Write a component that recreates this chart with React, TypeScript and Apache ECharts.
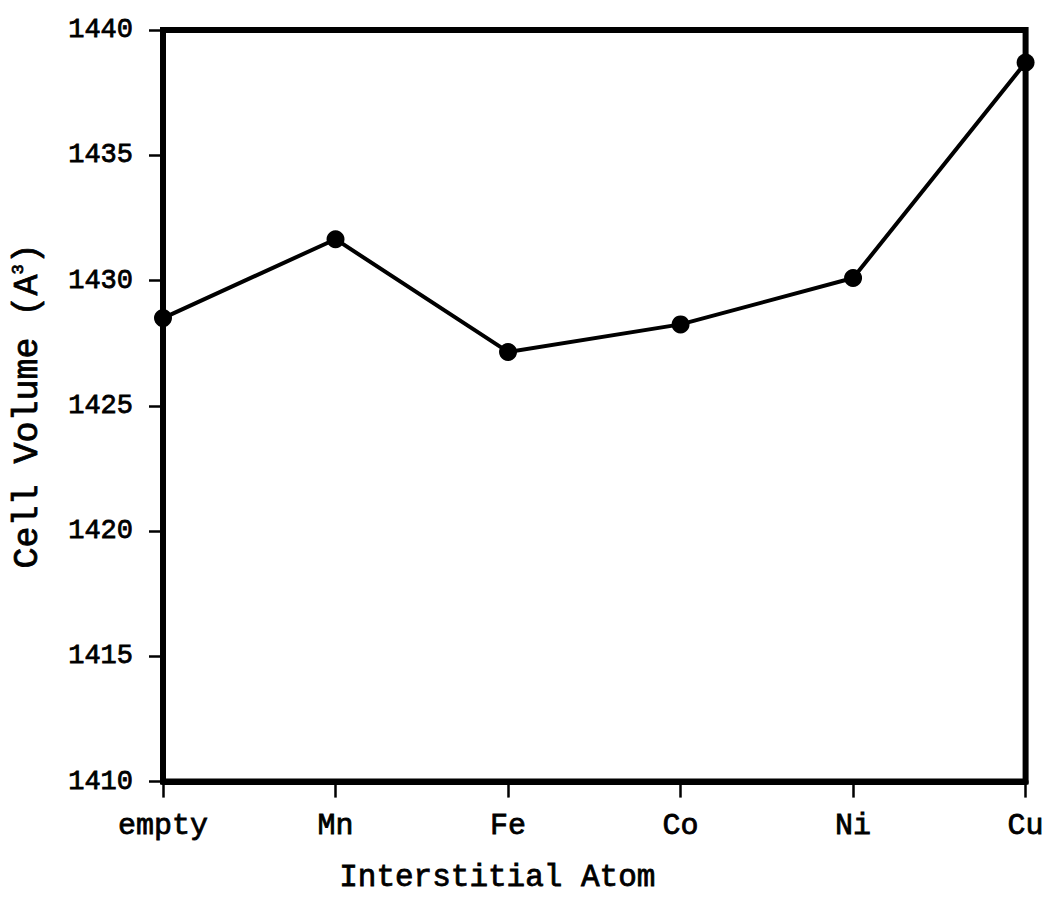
import React, { useEffect, useRef } from "react";
import * as echarts from "echarts";

const categories = ["empty", "Mn", "Fe", "Co", "Ni", "Cu"];
const cellVolume = [1428.5, 1431.65, 1427.15, 1428.25, 1430.1, 1438.7];
const yTicks = { min: 1410, max: 1440, interval: 5 };

const FONT = "Liberation Mono";
const textBase = {
  fontFamily: FONT,
  color: "#000",
  textBorderColor: "#000",
  textBorderWidth: 0.8,
};

export default function App() {
  const ref = useRef<HTMLDivElement>(null);
  useEffect(() => {
    if (!ref.current) return;
    const chart = echarts.init(ref.current, undefined, { renderer: "svg" });
    chart.setOption({
      animation: false,
      backgroundColor: "#ffffff",
      grid: {
        left: 163,
        right: 19,
        top: 30,
        bottom: 116,
        show: true,
        borderColor: "#000",
        borderWidth: 6,
      },
      xAxis: {
        type: "category",
        data: categories,
        boundaryGap: false,
        name: "Interstitial Atom",
        nameLocation: "middle",
        nameGap: 80,
        nameTextStyle: {
          ...textBase,
          fontSize: 31,
          padding: [0, 194, 0, 0],
        },
        axisLine: { show: true, lineStyle: { color: "#000", width: 6 } },
        axisTick: { show: true, alignWithLabel: true, length: 16, lineStyle: { color: "#000", width: 2.5 } },
        axisLabel: { ...textBase, fontSize: 30, margin: 29 },
        splitLine: { show: false },
      },
      yAxis: {
        type: "value",
        min: yTicks.min,
        max: yTicks.max,
        interval: yTicks.interval,
        name: "Cell Volume (A{sup|3})",
        nameLocation: "middle",
        nameGap: 118,
        nameTextStyle: {
          ...textBase,
          fontSize: 35,
          rich: {
            sup: { ...textBase, fontSize: 17, verticalAlign: "top", padding: [0, 0, 14, 0] },
          },
        },
        axisLine: { show: true, lineStyle: { color: "#000", width: 6 } },
        axisTick: { show: true, length: 14, lineStyle: { color: "#000", width: 2.5 } },
        axisLabel: {
          ...textBase,
          fontSize: 27,
          margin: 30,
          formatter: (v: number) => String(v),
        },
        splitLine: { show: false },
      },
      series: [
        {
          type: "line",
          data: cellVolume,
          symbol: "circle",
          symbolSize: 18,
          lineStyle: { color: "#000", width: 4 },
          itemStyle: { color: "#000" },
          clip: false,
        },
      ],
    });
    return () => chart.dispose();
  }, []);
  return (
    <div
      ref={ref}
      style={{ position: "fixed", left: 0, top: 0, width: 1047, height: 898, background: "#fff" }}
    />
  );
}
